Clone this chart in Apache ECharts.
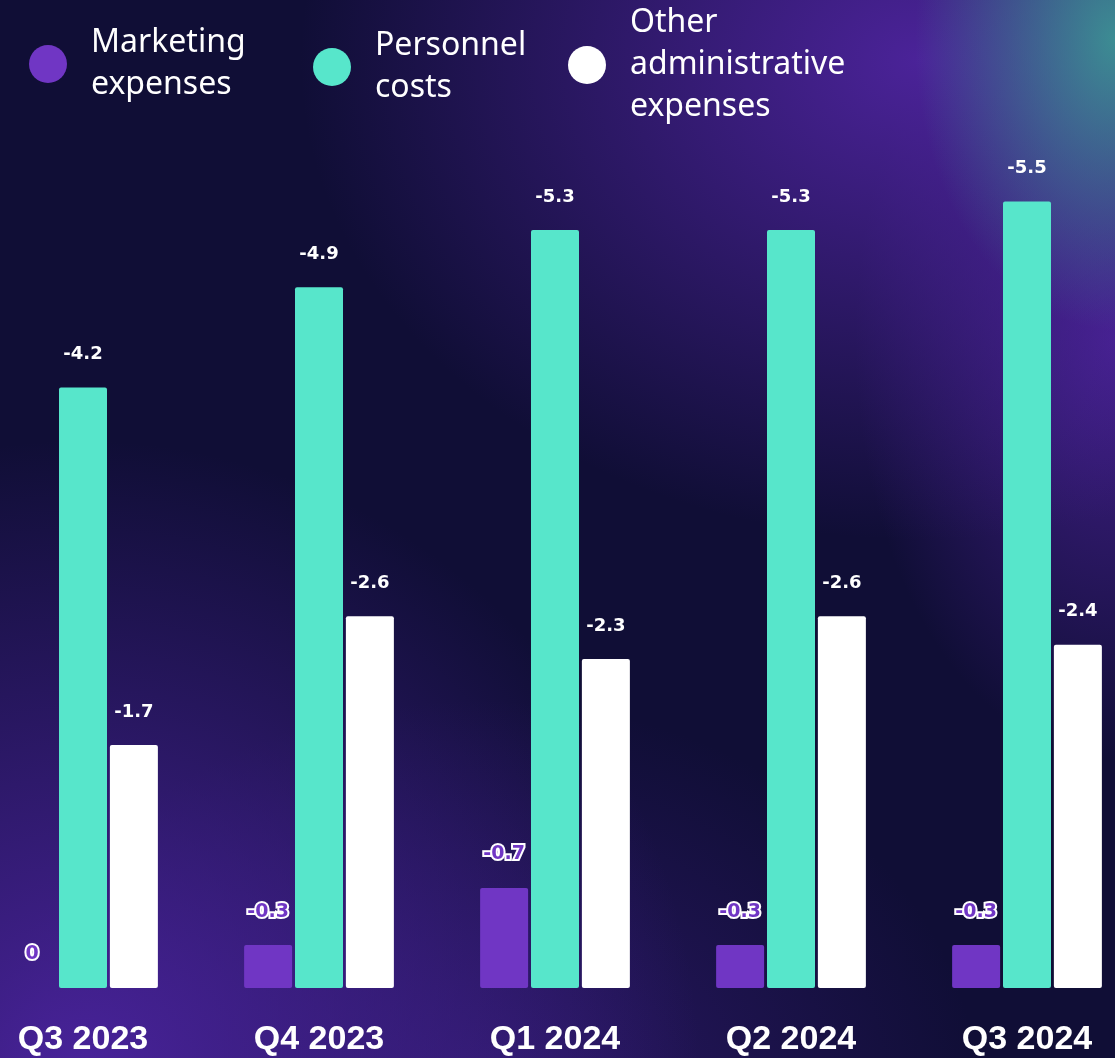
<!DOCTYPE html>
<html>
<head>
<meta charset="utf-8">
<script src="https://cdn.jsdelivr.net/npm/echarts@6/dist/echarts.min.js"></script>
<style>
  html, body { margin: 0; padding: 0; }
  body {
    width: 1115px; height: 1058px; overflow: hidden; position: relative;
    background:
      radial-gradient(ellipse 200px 290px at 1115px 40px, rgba(60,160,150,0.85), rgba(60,160,150,0) 100%),
      radial-gradient(ellipse 620px 480px at 920px 60px, rgba(78,36,158,0.95), rgba(78,36,158,0) 100%),
      radial-gradient(ellipse 260px 420px at 1115px 340px, rgba(84,38,168,0.75), rgba(84,38,168,0) 100%),
      radial-gradient(ellipse 620px 640px at 80px 1080px, rgba(76,36,160,0.95), rgba(76,36,160,0) 100%),
      radial-gradient(ellipse 500px 400px at 480px 1100px, rgba(70,34,150,0.5), rgba(70,34,150,0) 100%),
      #100e36;
  }
  /* chart is wider than the window so the first and last bands start off-screen */
  #main { width: 1180px; height: 1058px; position: absolute; left: -35px; top: 0; }
</style>
</head>
<body>
<div id="main"></div>
<script>
  const quarters = ['Q3 2023', 'Q4 2023', 'Q1 2024', 'Q2 2024', 'Q3 2024'];
  const marketing = [0, -0.3, -0.7, -0.3, -0.3];
  const personnel = [-4.2, -4.9, -5.3, -5.3, -5.5];
  const otherAdmin = [-1.7, -2.6, -2.3, -2.6, -2.4];

  const chart = echarts.init(document.getElementById('main'));

  const fmt = function (p) {
    return p.value === 0 ? '0' : '-' + p.value.toFixed(1);
  };
  const abs = arr => arr.map(v => Math.abs(v));

  const baseLabel = {
    show: true,
    position: 'top',
    distance: 24,
    fontFamily: '"DejaVu Sans", sans-serif',
    fontWeight: 'bold',
    fontSize: 18,
    color: '#ffffff',
    formatter: fmt
  };

  const legendText = {
    color: '#ffffff',
    fontFamily: '"Noto Sans", sans-serif',
    fontSize: 32,
    lineHeight: 42,
    padding: [0, 0, 0, 19]
  };
  const legendBase = { icon: 'circle', itemWidth: 38, itemHeight: 38, textStyle: legendText };

  const option = {
    backgroundColor: 'transparent',
    legend: [
      Object.assign({ data: ['Marketing\nexpenses'], left: 59, top: 12 }, legendBase,
        { textStyle: Object.assign({}, legendText, { padding: [10, 0, 0, 19] }) }),
      Object.assign({ data: ['Personnel\ncosts'], left: 343, top: 20 }, legendBase),
      Object.assign({ data: ['Other\nadministrative\nexpenses'], left: 598, top: -3 }, legendBase)
    ],
    grid: { left: 0, right: 0, top: 130, bottom: 70 },
    xAxis: {
      type: 'category',
      data: quarters,
      axisLine: { show: false },
      axisTick: { show: false },
      axisLabel: {
        color: '#ffffff',
        fontFamily: '"Liberation Sans", Arial, sans-serif',
        fontWeight: 'bold',
        fontSize: 34,
        margin: 35
      }
    },
    yAxis: {
      type: 'value',
      min: 0,
      max: 6,
      show: false,
      splitLine: { show: false }
    },
    series: [
      {
        name: 'Marketing\nexpenses',
        type: 'bar',
        data: abs(marketing),
        barWidth: 48,
        barGap: '6%',
        itemStyle: { color: '#7036c4', borderRadius: 2 },
        label: Object.assign({}, baseLabel, { fontSize: 19, color: '#7036c4', textBorderColor: '#ffffff', textBorderWidth: 4 })
      },
      {
        name: 'Personnel\ncosts',
        type: 'bar',
        data: abs(personnel),
        barWidth: 48,
        barGap: '6%',
        itemStyle: { color: '#57e6cb', borderRadius: 2 },
        label: baseLabel
      },
      {
        name: 'Other\nadministrative\nexpenses',
        type: 'bar',
        data: abs(otherAdmin),
        barWidth: 48,
        barGap: '6%',
        itemStyle: { color: '#ffffff', borderRadius: 2 },
        label: baseLabel
      }
    ]
  };

  option && chart.setOption(option);
  window.addEventListener('resize', function () {
    chart.resize();
  });
</script>
</body>
</html>
